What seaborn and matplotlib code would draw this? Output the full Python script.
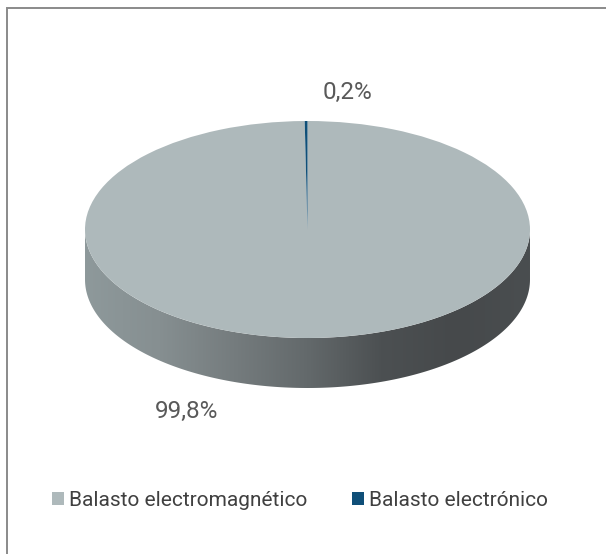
import numpy as np
import matplotlib
matplotlib.use("Agg")
import matplotlib.pyplot as plt
from matplotlib.colors import LinearSegmentedColormap
from matplotlib.lines import Line2D
from matplotlib.patches import PathPatch
from matplotlib.path import Path
import seaborn as sns

categories = ["Balasto electromagnético", "Balasto electrónico"]
values = [99.8, 0.2]
colors = ["#AEB9BB", "#0F4F78"]
value_labels = ["99,8%", "0,2%"]

sns.set_theme(style="white")
plt.rcParams["font.family"] = ["Roboto", "DejaVu Sans"]

W, H = 606, 554
fig = plt.figure(figsize=(W / 100, H / 100), dpi=100, facecolor="white")

# frame: only the top and left edges are visible in the reference
fig.add_artist(Line2D([6.5 / W, 6.5 / W, 1], [0, 1 - 7.5 / H, 1 - 7.5 / H], transform=fig.transFigure,
                      color="#8A8A8A", linewidth=1.4, solid_joinstyle="miter"))

# axes around the pie top ellipse plus the extruded depth
x0, x1, y0, y1 = 85, 530, 121, 338
side_px = 50
ax = fig.add_axes([x0 / W, 1 - (y1 + side_px) / H, (x1 - x0) / W, (y1 + side_px - y0) / H])
depth = side_px / ((y1 - y0) / 2)

wedges, _ = ax.pie(values, colors=colors, startangle=90, counterclock=False, radius=1,
                   wedgeprops={"linewidth": 0, "zorder": 3})
ax.set_aspect("auto")
ax.axis("off")

# extruded side with a horizontal gradient
cmap = LinearSegmentedColormap.from_list(
    "side", ["#8E999B", "#868F91", "#757C7E", "#63696B", "#4C5052", "#46494B", "#4A4E50"])
grad = np.linspace(0, 1, 256).reshape(1, -1)
im = ax.imshow(grad, cmap=cmap, extent=(-1, 1, -1 - depth, 0), aspect="auto", zorder=1)
theta = np.linspace(np.pi, 2 * np.pi, 200)
xs = np.cos(theta)
ys = np.sin(theta)
verts = np.r_[np.c_[xs, ys - depth], np.c_[xs[::-1], ys[::-1]], [[xs[0], ys[0] - depth]]]
side = PathPatch(Path(verts, closed=True), transform=ax.transData, fill=False, linewidth=0)
ax.add_patch(side)
im.set_clip_path(side)
ax.set_xlim(-1, 1)
ax.set_ylim(-1 - depth, 1)

# value labels
text_color = "#595959"
label_pos = [(187, 411), (348, 92)]
for (px, py), lab in zip(label_pos, value_labels):
    fig.text(px / W, 1 - py / H, lab, ha="center", va="center", fontsize=17.5, color=text_color)

# legend
fig.legend(wedges, categories, loc="center", bbox_to_anchor=(300 / W, 1 - 500 / H), ncol=2, frameon=False,
           fontsize=15, labelcolor="#404040", handlelength=0.58, handleheight=0.58,
           handletextpad=0.25, columnspacing=2.1, borderpad=0, borderaxespad=0)

fig.savefig("out.png", dpi=100, facecolor="white")
